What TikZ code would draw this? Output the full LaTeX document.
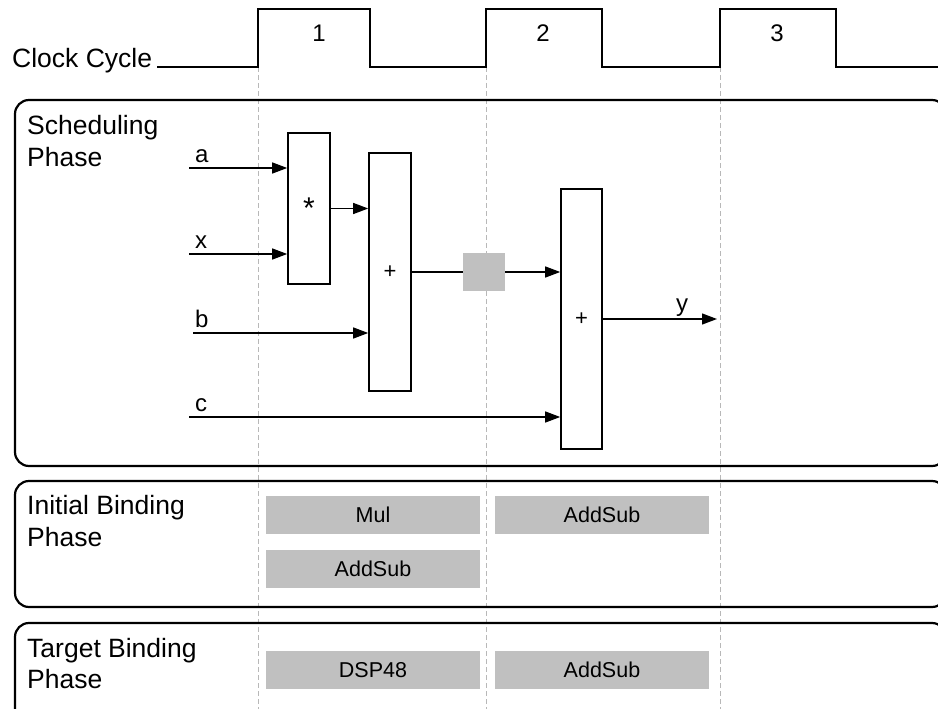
\documentclass[tikz,border=0pt]{standalone}
\usepackage{fontspec}
\setmainfont{Liberation Sans}
\usetikzlibrary{arrows.meta}
\definecolor{resgray}{HTML}{C0C0C0}
\begin{document}
\begin{tikzpicture}[x=1pt,y=-1pt,
  big/.style={font=\fontsize{26.5}{31}\selectfont, anchor=base west, inner sep=0pt},
  small/.style={font=\fontsize{24}{28}\selectfont, inner sep=0pt},
  num/.style={font=\fontsize{24}{28}\selectfont, inner sep=0pt},
  opbox/.style={draw, line width=1.6pt, minimum width=42pt, inner sep=0pt, font=\fontsize{22}{26}\selectfont},
  reg/.style={fill=resgray, minimum width=42pt, minimum height=38pt, inner sep=0pt},
  res/.style={fill=resgray, minimum width=214pt, minimum height=38pt, inner sep=0pt, font=\fontsize{21.5}{25}\selectfont},
  phase/.style={draw, line width=2.2pt, rounded corners=14pt},
  clk/.style={draw, line width=1.8pt},
  cyc/.style={draw=black!28, line width=0.9pt, dash pattern=on 5pt off 3pt},
  arr/.style={draw, line width=1.3pt, -{Triangle[length=15pt,width=11pt]}}]
\useasboundingbox (0,0) rectangle (938,709);

% cycle separators
\foreach \xx in {258,486,720} \draw[cyc] (\xx,67) -- (\xx,709);

% clock
\node[big] (clklabel) at (12,68) {Clock Cycle};
\draw[clk] (157,67) -- (258,67) -- (258,9) -- (370,9) -- (370,67) -- (486,67) -- (486,9) -- (602,9) -- (602,67) -- (720,67) -- (720,9) -- (836,9) -- (836,67) -- (940,67);
\node[num] (c1) at (319,33) {1};
\node[num] (c2) at (543,33) {2};
\node[num] (c3) at (777,33) {3};

% phase frames
\draw[phase] (15,100) rectangle (946,466);
\draw[phase] (15,481) rectangle (946,607);
\draw[phase] (15,623) rectangle (946,730);

\node[big] (s1) at (27,135) {Scheduling};
\node[big] (s2) at (27,166) {Phase};
\node[big] (i1) at (27,514) {Initial Binding};
\node[big] (i2) at (27,546) {Phase};
\node[big] (t1) at (27,657) {Target Binding};
\node[big] (t2) at (27,688) {Phase};

% scheduling data flow
\node[opbox, minimum height=151pt, font=\fontsize{30}{34}\selectfont] (mul) at (309,208.5) {*};
\node[opbox, minimum height=238pt] (add1) at (390,272) {+};
\node[opbox, minimum height=260pt, minimum width=41pt] (add2) at (581.5,319) {+};
\node[reg] (regb) at (484,272) {};

\coordinate (ain) at (189,168);
\coordinate (xin) at (189,254);
\coordinate (bin) at (193,333);
\coordinate (cin) at (189,417);
\coordinate (yout) at (717,319);

\draw[arr] (ain) -- (mul.west |- ain);
\draw[arr] (xin) -- (mul.west |- xin);
\draw[arr] (mul.east) -- (add1.west |- mul.east);
\draw[arr] (bin) -- (add1.west |- bin);
\draw[line width=1.3pt] (add1.east) -- (regb.west);
\draw[arr] (regb.east) -- (add2.west |- regb.east);
\draw[arr] (cin) -- (add2.west |- cin);
\draw[arr] (add2.east) -- (yout);

\node[small, anchor=base west] (la) at (195,162) {a};
\node[small, anchor=base west] (lx) at (195,248) {x};
\node[small, anchor=base west] (lb) at (195,327) {b};
\node[small, anchor=base west] (lc) at (195,411) {c};
\node[small, anchor=base west] (ly) at (676,311) {y};

% binding resources
\node[res] (mulres) at (373,515) {Mul};
\node[res] (asa) at (602,515) {AddSub};
\node[res] (asb) at (373,569) {AddSub};
\node[res] (dsp) at (373,670) {DSP48};
\node[res] (asc) at (602,670) {AddSub};
\end{tikzpicture}
\end{document}
